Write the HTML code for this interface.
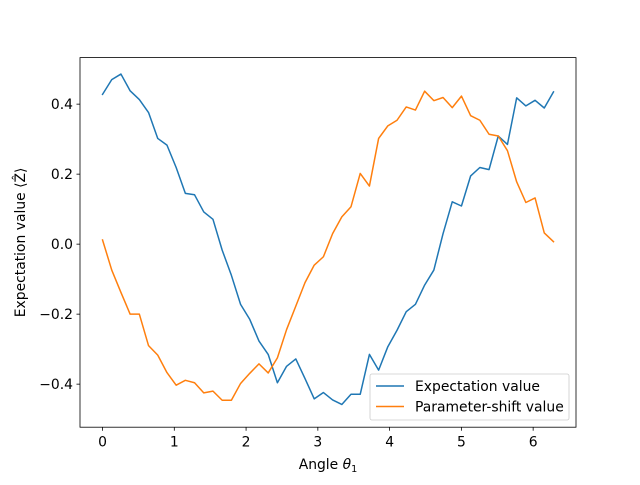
<!DOCTYPE html>
<html><head><meta charset="utf-8"><style>
body{margin:0;background:#fff}
svg text{font-family:"DejaVu Sans","Liberation Sans",sans-serif;font-size:13.9px;fill:#000}
</style></head><body>
<svg id="chart" width="640" height="480" viewBox="0 0 640 480" xmlns="http://www.w3.org/2000/svg">
<rect x="0" y="0" width="640" height="480" fill="#fff"/>
<g id="plot"></g>
</svg>
<script>
const expectationValues=[0.428,0.470,0.486,0.438,0.413,0.376,0.302,0.283,0.219,0.145,0.141,0.092,0.071,-0.017,-0.089,-0.172,-0.215,-0.277,-0.315,-0.396,-0.349,-0.328,-0.384,-0.442,-0.424,-0.445,-0.458,-0.429,-0.429,-0.315,-0.36,-0.293,-0.246,-0.193,-0.172,-0.117,-0.074,0.030,0.121,0.109,0.195,0.219,0.213,0.309,0.285,0.418,0.395,0.411,0.389,0.435];
const paramShiftValues=[0.012,-0.074,-0.138,-0.2,-0.2,-0.29,-0.317,-0.367,-0.403,-0.389,-0.396,-0.425,-0.42,-0.446,-0.446,-0.398,-0.369,-0.342,-0.368,-0.325,-0.244,-0.177,-0.11,-0.06,-0.036,0.03,0.078,0.107,0.202,0.166,0.302,0.338,0.354,0.392,0.383,0.437,0.41,0.419,0.39,0.423,0.367,0.354,0.314,0.309,0.267,0.178,0.119,0.132,0.032,0.007];
const xTicks=[0,1,2,3,4,5,6];
const yTicks=[-0.4,-0.2,0.0,0.2,0.4];
const seriesNames=["Expectation value","Parameter-shift value"];
const L=80,R=576,T=57.6,B=427.2;
const xMin=-0.314,xMax=6.597,yMin=-0.523,yMax=0.533;
function sx(v){return L+(v-xMin)/(xMax-xMin)*(R-L);}
function sy(v){return B-(v-yMin)/(yMax-yMin)*(B-T);}
const NS="http://www.w3.org/2000/svg";
const g=document.getElementById('plot');
function mk(tag,attrs,parent){const e=document.createElementNS(NS,tag);for(const k in attrs)e.setAttribute(k,attrs[k]);(parent||g).appendChild(e);return e;}
function xAt(i,n){return i*2*Math.PI/(n-1);}
const colors=["#1f77b4","#ff7f0e"];
[expectationValues,paramShiftValues].forEach((arr,s)=>{
  const pts=arr.map((v,i)=>sx(xAt(i,arr.length)).toFixed(2)+","+sy(v).toFixed(2)).join(" ");
  const pl=mk('polyline',{points:pts,fill:'none',stroke:colors[s],'stroke-width':1.5,'stroke-linejoin':'round','stroke-linecap':'square'});
  
  
});
const frame=mk('rect',{x:L,y:T,width:R-L,height:B-T,fill:'none',stroke:'#000','stroke-width':0.8});


xTicks.forEach(t=>{
  const x=sx(t);
  const tk=mk('line',{x1:x,x2:x,y1:B,y2:B+3.5,stroke:'#000','stroke-width':0.8});
  
  
  const tx=mk('text',{x:x,y:B+19.5,'text-anchor':'middle'});
  tx.textContent=String(t);
  
  
});
yTicks.forEach(t=>{
  const y=sy(t);
  const tk=mk('line',{x1:L-3.5,x2:L,y1:y,y2:y,stroke:'#000','stroke-width':0.8});
  
  
  const tx=mk('text',{x:L-7,y:y+5,'text-anchor':'end'});
  tx.textContent=(t<0?"\u2212":"")+Math.abs(t).toFixed(1);
  
  
});
const xl=mk('text',{x:(L+R)/2,y:469,'text-anchor':'middle'});
xl.innerHTML='Angle <tspan font-style="italic">θ</tspan><tspan font-size="9.7" dy="3">1</tspan>';


const yl=mk('text',{x:0,y:0,'text-anchor':'middle',transform:'translate(25,'+((T+B)/2)+') rotate(-90)'});
yl.textContent='Expectation value ⟨Ẑ⟩';


const lg=mk('g',{});


mk('rect',{x:370,y:374,width:199,height:46,rx:2,fill:'#fff','fill-opacity':0.8,stroke:'#ccc','stroke-width':0.8},lg);
seriesNames.forEach((n,i)=>{
  const y=386+i*20.5;
  const ln=mk('line',{x1:376,x2:404,y1:y,y2:y,stroke:colors[i],'stroke-width':1.5},lg);
  
  
  const t=mk('text',{x:415,y:y+5},lg);
  t.textContent=n;
  
  
});
</script>
</body></html>
